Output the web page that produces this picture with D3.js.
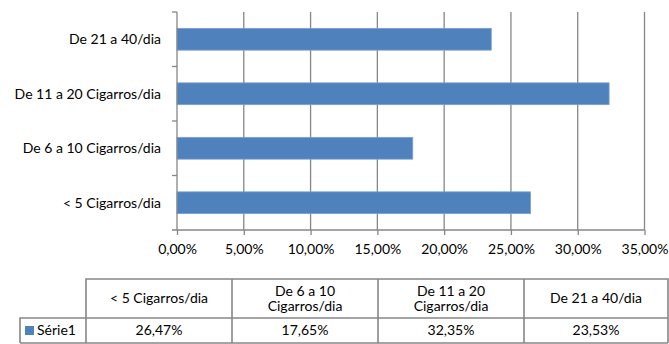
<!DOCTYPE html>
<html>
<head>
<meta charset="utf-8">
<script src="https://cdn.jsdelivr.net/npm/d3@7/dist/d3.min.js"></script>
<style>
  body { margin: 0; background: #fff; }
  text { font-family: Lato, "Liberation Sans", sans-serif; font-size: 14px; fill: #000; }
</style>
</head>
<body>
<div id="chart"></div>
<script>
// categories from bottom to top, as in the table
const categories = ['< 5 Cigarros/dia', 'De 6 a 10 Cigarros/dia', 'De 11 a 20 Cigarros/dia', 'De 21 a 40/dia'];
const headerLines = [['< 5 Cigarros/dia'], ['De 6 a 10', 'Cigarros/dia'], ['De 11 a 20', 'Cigarros/dia'], ['De 21 a 40/dia']];
const values = [26.47, 17.65, 32.35, 23.53];
const seriesName = 'Série1';
const xTicks = [0, 5, 10, 15, 20, 25, 30, 35];

const W = 669, H = 344;
const blue = '#4F81BD', grid = '#868686';
const fmt = v => v.toFixed(2).replace('.', ',') + '%';

const svg = d3.select('#chart').append('svg')
    .attr('width', W)
    .attr('height', H);

const x = d3.scaleLinear().domain([0, 35]).range([177, 644.5]);
// top category is the last one
const y = d3.scaleBand()
    .domain(categories.slice().reverse())
    .range([12, 230])
    .paddingInner(0.6)
    .paddingOuter(0.3);

// vertical grid
svg.append('g')
    .selectAll('line')
    .data(xTicks.slice(1))
    .join('line')
    .attr('x1', d => x(d)).attr('x2', d => x(d))
    .attr('y1', 12).attr('y2', 230)
    .attr('stroke', grid).attr('stroke-width', 1.3);

// bars
svg.append('g')
    .selectAll('rect')
    .data(categories)
    .join('rect')
    .attr('x', x(0))
    .attr('y', d => y(d))
    .attr('width', (d, i) => x(values[i]) - x(0))
    .attr('height', y.bandwidth())
    .attr('fill', blue)
    .attr('stroke', '#7aa0d2')
    .attr('stroke-width', 0.8);

// x axis
const xAxis = svg.append('g')
    .attr('transform', 'translate(0,230)')
    .call(d3.axisBottom(x).tickValues(xTicks).tickFormat(fmt).tickSize(5).tickSizeOuter(0).tickPadding(9));
xAxis.select('.domain').attr('stroke', grid).attr('stroke-width', 1.3).attr('d', 'M172,0H' + x(35));
xAxis.selectAll('.tick line').attr('stroke', grid).attr('stroke-width', 1.3);
xAxis.selectAll('text').style('font-size', '14px').style('font-family', 'Lato, sans-serif');

// y axis: ticks between bands
const yAxis = svg.append('g');
yAxis.append('line')
    .attr('x1', x(0)).attr('x2', x(0)).attr('y1', 12).attr('y2', 230)
    .attr('stroke', grid).attr('stroke-width', 1.3);
const step = y.step();
yAxis.selectAll('.yt')
    .data(d3.range(4))
    .join('line')
    .attr('class', 'yt')
    .attr('x1', x(0) - 5).attr('x2', x(0))
    .attr('y1', i => 12 + i * step).attr('y2', i => 12 + i * step)
    .attr('stroke', grid).attr('stroke-width', 1.3);
yAxis.selectAll('text')
    .data(categories)
    .join('text')
    .attr('x', 161)
    .attr('y', d => y(d) + y.bandwidth() / 2)
    .attr('dy', '0.35em')
    .attr('text-anchor', 'end')
    .text(d => d);

// data table
const colX = [86, 232, 378, 524, 668];
const tTop = 279, tMid = 318, tBot = 343, tLeft = 20;
const tbl = svg.append('g')
    .attr('stroke', grid).attr('stroke-width', 1.6).attr('fill', 'none');
tbl.append('path').attr('d', `M${colX[0]},${tMid}V${tTop}H${colX[4]}V${tBot}`);
tbl.append('path').attr('d', `M${tLeft},${tBot}V${tMid}H${colX[4]}`);
tbl.append('path').attr('d', `M${tLeft},${tBot}H${colX[4]}`);
tbl.selectAll('.col')
    .data(colX.slice(0, 4))
    .join('line')
    .attr('x1', d => d).attr('x2', d => d)
    .attr('y1', (d, i) => i === 0 ? tMid : tTop).attr('y2', tBot);

const header = svg.append('g');
headerLines.forEach((lines, i) => {
    const cx = (colX[i] + colX[i + 1]) / 2;
    const cy = (tTop + tMid) / 2;
    header.append('text')
        .attr('x', cx)
        .attr('text-anchor', 'middle')
        .selectAll('tspan')
        .data(lines)
        .join('tspan')
        .attr('x', cx)
        .attr('y', (d, j) => cy + (j - (lines.length - 1) / 2) * 15.5)
        .attr('dy', '0.35em')
        .text(d => d);
});

const rowY = (tMid + tBot) / 2;
svg.append('g')
    .selectAll('text')
    .data(values)
    .join('text')
    .attr('x', (d, i) => (colX[i] + colX[i + 1]) / 2)
    .attr('y', rowY)
    .attr('dy', '0.35em')
    .attr('text-anchor', 'middle')
    .text(fmt);

svg.append('rect')
    .attr('x', 25).attr('y', rowY - 4.5)
    .attr('width', 9).attr('height', 9)
    .attr('fill', blue);
svg.append('text')
    .attr('x', 37)
    .attr('y', rowY)
    .attr('dy', '0.35em')
    .text(seriesName);
</script>
</body>
</html>
